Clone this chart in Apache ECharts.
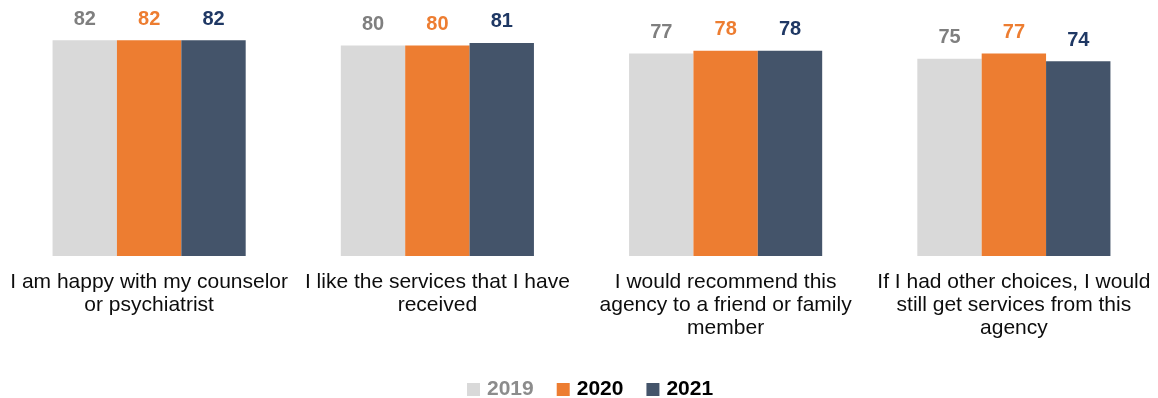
<!DOCTYPE html>
<html>
<head>
<meta charset="utf-8">
<script src="https://cdn.jsdelivr.net/npm/echarts@6/dist/echarts.min.js"></script>
<style>
  html, body { margin: 0; padding: 0; background: #ffffff; }
  #chart { width: 1158px; height: 398px; }
</style>
</head>
<body>
<div id="chart"></div>
<script>
// Survey statements (line breaks as shown under each group)
const categories = [
  'I am happy with my counselor\nor psychiatrist',
  'I like the services that I have\nreceived',
  'I would recommend this\nagency to a friend or family\nmember',
  'If I had other choices, I would\nstill get services from this\nagency'
];
const years = ['2019', '2020', '2021'];
const values2019 = [82, 80, 77, 75];
const values2020 = [82, 80, 78, 77];
const values2021 = [82, 81, 78, 74];

const barColors = ['#D9D9D9', '#ED7D31', '#44546A'];
const labelColors = ['#7F7F7F', '#ED7D31', '#1F3864'];
const legendTextColors = ['#8C8C8C', '#000000', '#000000'];
const seriesValues = [values2019, values2020, values2021];

const FONT = '"Liberation Sans", Arial, sans-serif';

const chart = echarts.init(document.getElementById('chart'), null, { renderer: 'canvas' });

chart.setOption({
  animation: false,
  backgroundColor: '#ffffff',
  grid: { left: 5, right: 0, top: 0, height: 256, containLabel: false },
  xAxis: {
    type: 'category',
    data: categories,
    axisLine: { show: false },
    axisTick: { show: false },
    axisLabel: {
      interval: 0,
      margin: 15,
      fontFamily: FONT,
      fontSize: 21,
      lineHeight: 23,
      color: '#0D0D0D',
      align: 'center'
    }
  },
  yAxis: {
    type: 'value',
    min: 0,
    max: 97.3,
    show: false,
    splitLine: { show: false }
  },
  legend: {
    left: 467,
    top: 379,
    padding: 0,
    itemWidth: 13,
    itemHeight: 13,
    itemGap: 23,
    icon: 'rect',
    textStyle: { fontFamily: FONT, fontSize: 21, fontWeight: 'bold', padding: [0, 0, 0, 2] },
    data: years.map((y, i) => ({ name: y, textStyle: { color: legendTextColors[i] } }))
  },
  series: years.map((y, i) => ({
    name: y,
    type: 'bar',
    data: seriesValues[i],
    barGap: '0%',
    barCategoryGap: '33%',
    itemStyle: { color: barColors[i] },
    label: {
      show: true,
      position: 'top',
      distance: 11,
      fontFamily: FONT,
      fontSize: 20,
      fontWeight: 'bold',
      color: labelColors[i]
    }
  }))
});
</script>
</body>
</html>
